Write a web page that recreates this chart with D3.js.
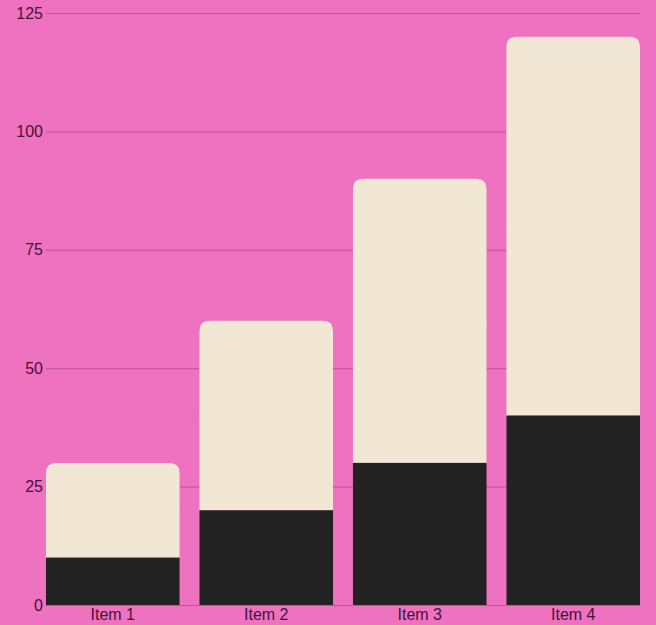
<!DOCTYPE html>
<html><head><meta charset="utf-8">
<script src="https://cdn.jsdelivr.net/npm/d3@7"></script>
<style>
html,body{margin:0;padding:0;background:#ee72bf;}
svg{display:block;font-family:"Liberation Sans",Arial,sans-serif;}
</style></head>
<body>
<svg id="chart" width="656" height="625"></svg>
<script>
const categories = ["Item 1","Item 2","Item 3","Item 4"];
const seriesA = [10,20,30,40];
const seriesB = [10,20,30,40];
const seriesC = [10,20,30,40];
const yTicks = [0,25,50,75,100,125];
const seriesColors = ["#222222","#f1e7d4","#f1e7d4"];

const W = 656, H = 625;
const m = {left:46, right:16, top:13, bottom:20};
const svg = d3.select("#chart");
svg.append("rect").attr("width",W).attr("height",H).attr("fill","#ee72bf");

const data = categories.map((c,i)=>({cat:c, a:seriesA[i], b:seriesB[i], c:seriesC[i]}));
const keys = ["a","b","c"];
const stack = d3.stack().keys(keys)(data);

const x = d3.scaleBand().domain(categories).range([m.left, W-m.right]).paddingInner(0.13).paddingOuter(0);
const y = d3.scaleLinear().domain([0,125]).range([H-m.bottom, m.top]);

// grid
const yAxis = d3.axisLeft(y).tickValues(yTicks).tickSize(-(W-m.right-m.left)).tickPadding(3);
const ga = svg.append("g").attr("transform",`translate(${m.left},0)`).call(yAxis);
ga.select(".domain").remove();
ga.selectAll(".tick line").attr("stroke","#c2529a").attr("stroke-width",1);
ga.selectAll(".tick text").attr("fill","#45133a").attr("font-size",16);

const r = 10;
function roundedTop(x0,y0,w,h,rr){
  rr = Math.min(rr,h,w/2);
  return `M${x0},${y0+h}V${y0+rr}Q${x0},${y0} ${x0+rr},${y0}H${x0+w-rr}Q${x0+w},${y0} ${x0+w},${y0+rr}V${y0+h}Z`;
}

// draw top series first so lower segments overlap seams
for(let si = stack.length-1; si>=0; si--){
  const s = stack[si];
  const g = svg.append("g");
  s.forEach(d=>{
    const x0 = x(d.data.cat), w = x.bandwidth();
    const y0 = y(d[1]), h = y(d[0]) - y(d[1]);
    if(si === stack.length-1){
      g.append("path").attr("d", roundedTop(x0,y0,w,h+1,r)).attr("fill", seriesColors[si]);
    } else {
      const ext = si>0 ? 1 : 0;
      g.append("rect").attr("x",x0).attr("y",y0-ext).attr("width",w).attr("height",h+ext).attr("fill",seriesColors[si]);
    }
  });
}

// x axis
const xAxis = d3.axisBottom(x).tickSize(0).tickPadding(4);
const gx = svg.append("g").attr("transform",`translate(0,${H-m.bottom})`).call(xAxis);
gx.select(".domain").attr("stroke","#c2529a");
gx.selectAll(".tick text").attr("fill","#45133a").attr("font-size",16);
</script>
</body></html>
